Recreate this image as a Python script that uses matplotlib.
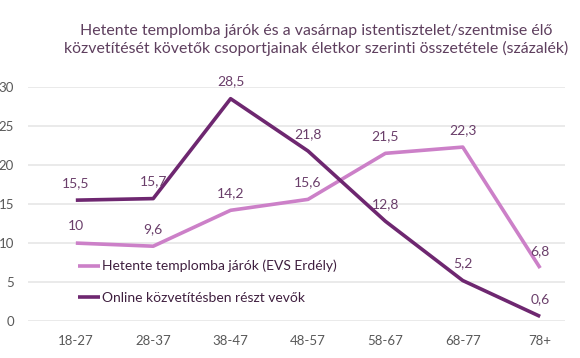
import matplotlib.pyplot as plt

categories = ['18-27', '28-37', '38-47', '48-57', '58-67', '68-77', '78+']
weekly = [10, 9.6, 14.2, 15.6, 21.5, 22.3, 6.8]
online = [15.5, 15.7, 28.5, 21.8, 12.8, 5.2, 0.6]
weekly_label = 'Hetente templomba járók (EVS Erdély)'
online_label = 'Online közvetítésben részt vevők'

plt.rcParams['font.family'] = ['Lato', 'DejaVu Sans']

light = '#CC80C8'
dark = '#6E2770'
text_col = '#595959'

fig = plt.figure(figsize=(5.8, 3.58), dpi=100)
ax = fig.add_axes([0.048, 0.103, 0.926, 0.654])

x = list(range(len(categories)))
l1, = ax.plot(x, weekly, color=light, lw=2.6, solid_capstyle='butt', label=weekly_label)
l2, = ax.plot(x, online, color=dark, lw=2.6, solid_capstyle='butt', label=online_label)

def fmt(v):
    return ('%g' % v).replace('.', ',')

for series in (weekly, online):
    for xi, v in zip(x, series):
        ax.annotate(fmt(v), (xi, v), xytext=(0, 8), textcoords='offset points',
                    ha='center', va='bottom', fontsize=10, color='#6A3E6A')

ax.set_xlim(-0.62, 6.32)
ax.set_ylim(0, 30)
ax.set_yticks([0, 5, 10, 15, 20, 25, 30])
ax.set_xticks(x)
ax.set_xticklabels(categories)
ax.grid(axis='y', color='#E6E6E6', lw=1.2)
ax.set_axisbelow(True)
for s in ax.spines.values():
    s.set_visible(False)
ax.tick_params(length=0, labelsize=9.5, labelcolor=text_col)
ax.tick_params(axis='y', pad=10)
ax.tick_params(axis='x', pad=10)

ax.legend(handles=[l1, l2], loc='lower left', bbox_to_anchor=(0.07, 0.02),
          frameon=False, fontsize=10, labelcolor='#3F1F3F', handlelength=1.6,
          handletextpad=0.1, labelspacing=1.4)

fig.text(0.545, 0.888, 'Hetente templomba járók és a vasárnap istentisztelet/szentmise élő\n'
         'közvetítését követők csoportjainak életkor szerinti összetétele (százalék)',
         ha='center', va='center', fontsize=11.4, color='#5E3F5E', linespacing=1.3)

fig.savefig('out.png', dpi=100)
